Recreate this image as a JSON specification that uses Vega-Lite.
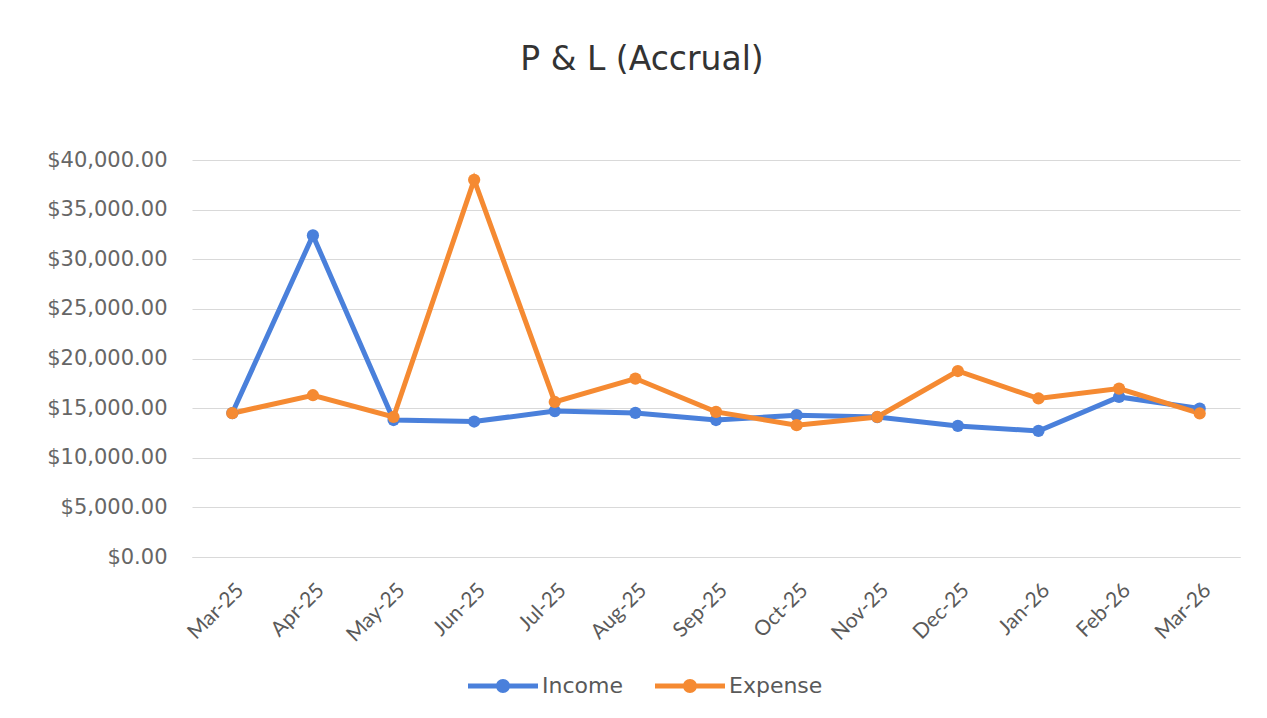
{
  "$schema": "https://vega.github.io/schema/vega-lite/v6.json",
  "width": 1048,
  "height": 397,
  "autosize": {"type": "none"},
  "padding": {"left": 192, "top": 160, "right": 27, "bottom": 161},
  "background": "white",
  "title": {
    "text": "P & L (Accrual)",
    "fontSize": 33,
    "font": "DejaVu Sans",
    "fontWeight": "normal",
    "color": "#333333",
    "anchor": "middle",
    "baseline": "alphabetic",
    "dx": -74,
    "offset": 46
  },
  "data": {
    "values": [
      {"month": "Mar-25", "series": "Income", "value": 14500},
      {"month": "Apr-25", "series": "Income", "value": 32400},
      {"month": "May-25", "series": "Income", "value": 13800},
      {"month": "Jun-25", "series": "Income", "value": 13650},
      {"month": "Jul-25", "series": "Income", "value": 14700},
      {"month": "Aug-25", "series": "Income", "value": 14520},
      {"month": "Sep-25", "series": "Income", "value": 13800},
      {"month": "Oct-25", "series": "Income", "value": 14290},
      {"month": "Nov-25", "series": "Income", "value": 14100},
      {"month": "Dec-25", "series": "Income", "value": 13210},
      {"month": "Jan-26", "series": "Income", "value": 12700},
      {"month": "Feb-26", "series": "Income", "value": 16130},
      {"month": "Mar-26", "series": "Income", "value": 14960},
      {"month": "Mar-25", "series": "Expense", "value": 14490},
      {"month": "Apr-25", "series": "Expense", "value": 16300},
      {"month": "May-25", "series": "Expense", "value": 14110},
      {"month": "Jun-25", "series": "Expense", "value": 38000},
      {"month": "Jul-25", "series": "Expense", "value": 15620},
      {"month": "Aug-25", "series": "Expense", "value": 17980},
      {"month": "Sep-25", "series": "Expense", "value": 14620},
      {"month": "Oct-25", "series": "Expense", "value": 13280},
      {"month": "Nov-25", "series": "Expense", "value": 14110},
      {"month": "Dec-25", "series": "Expense", "value": 18740},
      {"month": "Jan-26", "series": "Expense", "value": 15970},
      {"month": "Feb-26", "series": "Expense", "value": 16970},
      {"month": "Mar-26", "series": "Expense", "value": 14460}
    ]
  },
  "encoding": {
    "x": {
      "field": "month",
      "type": "ordinal",
      "sort": ["Mar-25","Apr-25","May-25","Jun-25","Jul-25","Aug-25","Sep-25","Oct-25","Nov-25","Dec-25","Jan-26","Feb-26","Mar-26"],
      "scale": {"type": "point", "padding": 0.5},
      "axis": {
        "title": null,
        "labelAngle": -45,
        "labelFontSize": 21,
        "labelFont": "Lato",
        "labelColor": "#5a5a5a",
        "labelPadding": 22,
        "ticks": false,
        "domainColor": "#d9d9d9",
        "grid": false
      }
    },
    "y": {
      "field": "value",
      "type": "quantitative",
      "scale": {"domain": [0, 40000], "nice": false},
      "axis": {
        "title": null,
        "format": "$,.2f",
        "values": [0, 5000, 10000, 15000, 20000, 25000, 30000, 35000, 40000],
        "labelFontSize": 21,
        "labelFont": "DejaVu Sans",
        "labelColor": "#666666",
        "labelPadding": 25,
        "ticks": false,
        "domain": false,
        "gridColor": "#d9d9d9",
        "gridWidth": 1
      }
    },
    "color": {
      "field": "series",
      "type": "nominal",
      "sort": ["Income", "Expense"],
      "scale": {"domain": ["Income", "Expense"], "range": ["#4a80db", "#f58a32"]},
      "legend": {
        "title": null,
        "orient": "none",
        "direction": "horizontal",
        "legendX": 276,
        "legendY": 491,
        "symbolType": "M-1,-0.07L1,-0.07L1,0.07L-1,0.07Z M0.2,0A0.2,0.2 0 1,1 -0.2,0A0.2,0.2 0 1,1 0.2,0Z",
        "symbolSize": 4900,
        "labelFontSize": 22,
        "labelFont": "DejaVu Sans",
        "labelColor": "#595959",
        "labelOffset": 4,
        "columnPadding": 32,
        "encode": {
          "symbols": {
            "update": {
              "fill": {"scale": "color", "field": "value"},
              "strokeWidth": {"value": 0},
              "opacity": {"value": 1}
            }
          }
        }
      }
    }
  },
  "layer": [
    {"mark": {"type": "line", "strokeWidth": 5}},
    {"mark": {"type": "point", "filled": true, "size": 150, "opacity": 1}}
  ],
  "config": {"view": {"stroke": null}}
}
